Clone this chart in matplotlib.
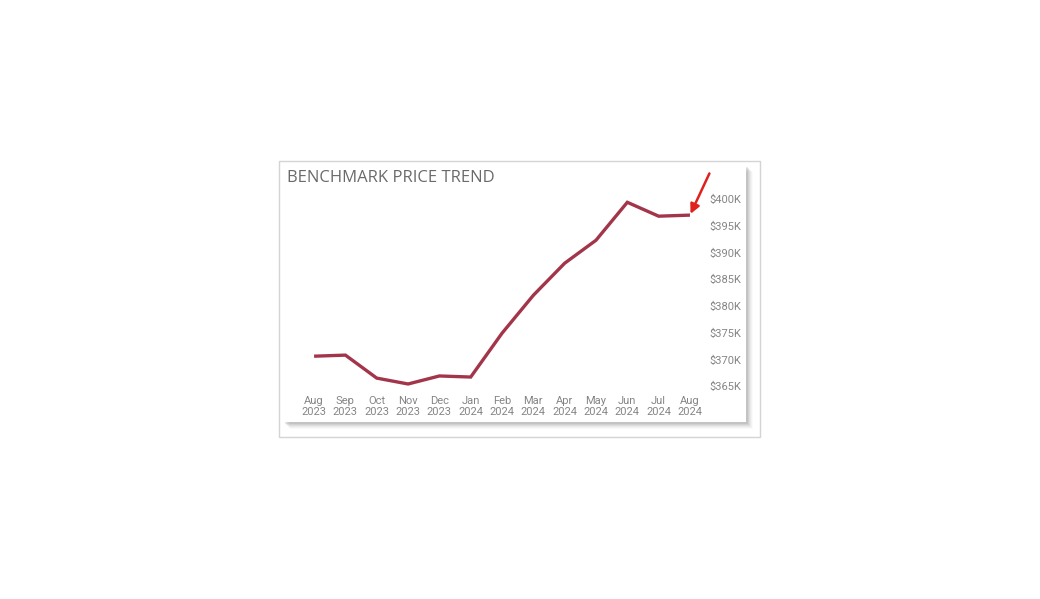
import matplotlib.pyplot as plt
from matplotlib.patches import Rectangle

months = ['Aug\n2023', 'Sep\n2023', 'Oct\n2023', 'Nov\n2023', 'Dec\n2023', 'Jan\n2024',
          'Feb\n2024', 'Mar\n2024', 'Apr\n2024', 'May\n2024', 'Jun\n2024', 'Jul\n2024', 'Aug\n2024']
price_k = [370.6, 370.8, 366.5, 365.4, 366.9, 366.7, 374.9, 382.0, 388.0, 392.3, 399.4, 396.8, 397.0]
yticks = [365, 370, 375, 380, 385, 390, 395, 400]

W, H = 1040, 599
fig = plt.figure(figsize=(W / 100, H / 100), dpi=100)
fig.patch.set_facecolor('white')

def px(x0, y0, x1, y1):
    # pixel box (top-left origin) -> figure fraction rect
    return (x0 / W, 1 - y1 / H), (x1 - x0) / W, (y1 - y0) / H

# outer card border
xy, w, h = px(279, 161, 760, 437)
fig.patches.append(Rectangle(xy, w, h, transform=fig.transFigure, facecolor='white',
                             edgecolor='#d4d4d4', lw=1, zorder=0))
# soft shadow of inner panel
for i, a in enumerate([0.04, 0.06, 0.08, 0.10, 0.13, 0.16]):
    d = 6 - i
    xy, w, h = px(284 + d, 166 + d, 747 + d, 423 + d)
    fig.patches.append(Rectangle(xy, w, h, transform=fig.transFigure, facecolor='#808080',
                                 edgecolor='none', alpha=a, zorder=0.5))
xy, w, h = px(281, 163, 746, 422)
fig.patches.append(Rectangle(xy, w, h, transform=fig.transFigure, facecolor='white',
                             edgecolor='none', zorder=0.8))

fig.text(287 / W, 1 - 178 / H, 'BENCHMARK PRICE TREND', fontsize=12, color='#6a6a6a',
         va='center', ha='left', family='Open Sans', zorder=2)

xy, w, h = px(300, 190, 705, 392)
ax = fig.add_axes([xy[0], xy[1], w, h])
ax.set_zorder(5)
ax.patch.set_alpha(0)
x = list(range(len(months)))
ax.plot(x, price_k, color='#a3354b', lw=2.4, solid_capstyle='butt', solid_joinstyle='miter')
ax.set_xlim(-0.45, 12.48)
ax.set_ylim(363.9, 401.7)
ax.set_xticks(x)
ax.set_xticklabels(months, fontsize=8, color='#858585', linespacing=1.15, family='Roboto')
ax.set_yticks(yticks)
ax.set_yticklabels([f'${v}K' for v in yticks], fontsize=8, color='#858585', family='Roboto')
ax.yaxis.tick_right()
ax.tick_params(length=0, pad=3)
for s in ax.spines.values():
    s.set_visible(False)

ax.annotate('', xy=(12, price_k[-1]), xytext=(14, 30), textcoords='offset points',
            arrowprops=dict(arrowstyle='-|>', color='#e0201c', lw=1.8, mutation_scale=14,
                            shrinkA=0, shrinkB=1))

fig.savefig('out.png', dpi=100)
